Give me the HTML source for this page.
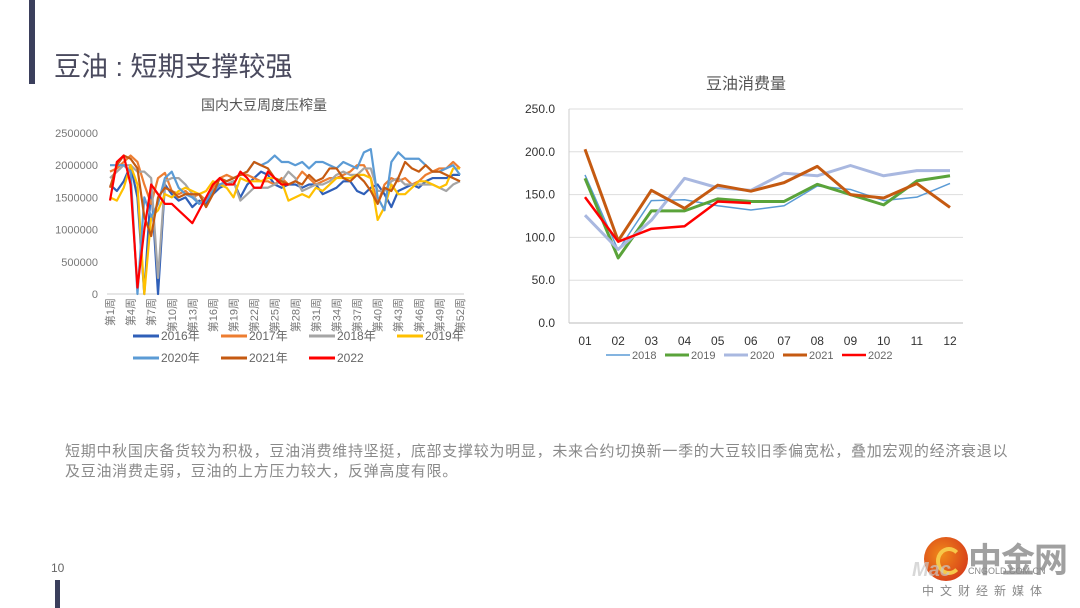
<!DOCTYPE html>
<html><head><meta charset="utf-8">
<style>
body{margin:0;width:1080px;height:608px;background:#fff;position:relative;overflow:hidden;font-family:"Liberation Sans","Noto Sans CJK SC",sans-serif;}
.abs{position:absolute;}
</style></head>
<body>
<div class="abs" style="left:29px;top:0;width:6px;height:84px;background:#3b3f5c"></div>
<div class="abs" style="left:54px;top:45px;font-size:27px;color:#4a4a5e;white-space:nowrap">豆油 : 短期支撑较强</div>

<svg class="abs" style="left:0;top:0" width="1080" height="420">
<g id="left"></g>
<g id="right"></g>
</svg>

<div class="abs" style="left:65px;top:442px;font-size:15px;line-height:20px;color:#8a8a8a;white-space:nowrap;letter-spacing:0.72px">短期中秋国庆备货较为积极，豆油消费维持坚挺，底部支撑较为明显，未来合约切换新一季的大豆较旧季偏宽松，叠加宏观的经济衰退以<br>及豆油消费走弱，豆油的上方压力较大，反弹高度有限。</div>

<div class="abs" style="left:51px;top:561px;font-size:12px;color:#666">10</div>
<div class="abs" style="left:55px;top:580px;width:5px;height:28px;background:#3b3f5c"></div>

<div class="abs" style="left:922px;top:537px;width:150px;height:70px">
<div class="abs" style="left:2px;top:0;width:44px;height:44px;border-radius:50%;background:radial-gradient(circle at 40% 40%,#f08a1a,#d0281a)"></div>
<div class="abs" style="left:14px;top:10px;width:18px;height:20px;border-radius:50%;border:4px solid #f7c84a;border-right-color:transparent"></div>
<div class="abs" style="left:46px;top:-4px;font-size:34px;font-weight:bold;color:#a0a0a0;letter-spacing:-1px">中金网</div>
<div class="abs" style="left:46px;top:29px;font-size:9px;color:#888">CNGOLD.COM.CN</div>
<div class="abs" style="left:-10px;top:22px;font-size:20px;font-style:italic;font-weight:bold;color:#c8c8c8;opacity:.7">Mac</div>
<div class="abs" style="left:0;top:45px;font-size:12px;color:#888;letter-spacing:6px;white-space:nowrap">中文财经新媒体</div>
</div>

<script>
const weeks = Array.from({length:52},(_,i)=>'第'+(i+1)+'周');
const crushTicks = [0,500000,1000000,1500000,2000000,2500000];
const crushSeriesNames = ['2016年','2017年','2018年','2019年','2020年','2021年','2022'];
const crush2016 = [1700,1600,1750,2000,1500,0,1700,0,1700,1550,1450,1500,1350,1450,1400,1550,1650,1700,1750,1500,1700,1800,1900,1850,1700,1650,1700,1700,1650,1700,1700,1550,1600,1650,1750,1750,1600,1550,1650,1700,1550,1350,1600,1650,1700,1650,1750,1800,1800,1800,1850,1850];
const crush2017 = [1900,1950,2050,2150,2050,1700,1400,1800,1880,1600,1550,1600,1500,1550,1450,1650,1800,1850,1800,1850,1850,1800,1750,1750,1700,1800,1700,1750,1900,1800,1700,1750,1800,1800,1850,1900,2000,2000,1800,1400,1700,1800,1750,1800,1700,1750,1850,1900,1950,1950,2050,1950];
const crush2018 = [1800,1900,2000,2000,1900,1900,1800,250,1750,1800,1800,1700,1550,1400,1500,1600,1700,1700,1750,1450,1550,1650,1650,1650,1700,1750,1900,1800,1600,1650,1700,1700,1750,1850,1900,1850,1850,1950,1950,1600,1600,1750,1800,1700,1700,1700,1700,1700,1650,1600,1700,1750];
const crush2019 = [1500,1450,1650,2000,1700,0,1200,1300,1550,1500,1600,1650,1600,1550,1600,1750,1700,1650,1500,1800,1750,1750,1750,1800,1800,1750,1450,1500,1550,1500,1650,1600,1700,1800,1800,1800,1850,1850,1800,1150,1350,1700,1550,1550,1650,1750,1750,1700,1650,1700,1950,1950];
const crush2020 = [2000,2000,2000,1900,0,1500,1200,1400,1800,1900,1650,1550,1500,1400,1450,1600,1700,1750,1800,1850,1900,2050,2000,2050,2150,2050,2050,2000,2050,1950,2050,2050,2000,1950,2050,2000,1950,2200,2250,1500,1300,2050,2200,2100,2100,2100,2000,1900,1900,1950,2000,1850];
const crush2021 = [1650,2000,2150,2100,1950,1200,900,1500,1650,1600,1500,1550,1550,1550,1350,1550,1800,1750,1800,1850,1900,2050,2000,1950,1800,1750,1700,1750,1700,1850,1750,1800,1950,1950,1800,1750,1850,1750,1600,1400,1650,1600,1800,2050,1950,1900,2000,1900,1900,1850,1800,1750];
const crush2022 = [1450,2050,2150,1700,100,1000,1700,1550,1400,1400,1300,1200,1100,1300,1500,1700,1800,1700,1700,1900,1800,1650,1650,1900,1800,1700,1700];
const crushColors = ['#2f5fb8','#ed7d31','#a5a5a5','#ffc000','#5b9bd5','#c55a11','#ff0000'];
const crushData = [crush2016,crush2017,crush2018,crush2019,crush2020,crush2021,crush2022];

const months = ['01','02','03','04','05','06','07','08','09','10','11','12'];
const consTicks = [0,50,100,150,200,250];
const consNames = ['2018','2019','2020','2021','2022'];
const cons2018 = [173,85,143,144,137,132,137,160,156,143,147,163];
const cons2019 = [169,76,131,131,145,142,142,162,150,138,166,172];
const cons2020 = [126,86,120,169,158,155,175,172,184,172,178,178];
const cons2021 = [203,96,155,134,161,154,164,183,150,146,163,135];
const cons2022 = [147,95,110,113,142,140];
const consColors = ['#5b9bd5','#5aa33a','#a9b8e0','#c55a11','#ff0000'];
const consWidths = [1.5,3,3,3,2.5];
const consData = [cons2018,cons2019,cons2020,cons2021,cons2022];

const NS='http://www.w3.org/2000/svg';
function mk(parent,tag,attrs,text){const e=document.createElementNS(NS,tag);for(const k in attrs)e.setAttribute(k,attrs[k]);if(text!=null)e.textContent=text;parent.appendChild(e);return e;}

// Left chart
const L=document.getElementById('left');
const lx=i=>110+i*(350/51), ly=v=>294-v/2500000*161;
let t=mk(L,'text',{x:264,y:110,'font-size':14,'text-anchor':'middle',fill:'#555'},'国内大豆周度压榨量');

crushTicks.forEach(v=>{const e=mk(L,'text',{x:98,y:ly(v)+4,'font-size':11,'text-anchor':'end',fill:'#777'},String(v));
});
let ax=mk(L,'line',{x1:107,x2:464,y1:294,y2:294,stroke:'#ccc'});

weeks.forEach((w,i)=>{if(i%3!==0&&i!==51)return;
const x=lx(i)+4,e=mk(L,'text',{x:x,y:298,'font-size':11,fill:'#777',transform:`rotate(-90 ${x} 298)`,'text-anchor':'end'},w);
});
crushData.forEach((s,k)=>{const p=mk(L,'polyline',{points:s.map((v,i)=>lx(i)+','+ly(v*1000)).join(' '),fill:'none',stroke:crushColors[k],'stroke-width':2.2,'stroke-linejoin':'round'});
});
crushSeriesNames.forEach((n,k)=>{const r=k<4?0:1,c=k<4?k:k-4;const x=133+c*88,y=r?358:336;
const g=mk(L,'g',{});
mk(g,'line',{x1:x,x2:x+26,y1:y,y2:y,stroke:crushColors[k],'stroke-width':3});
mk(g,'text',{x:x+28,y:y+4,'font-size':12,fill:'#666'},n);});

// Right chart
const R=document.getElementById('right');
const rx=i=>585+i*(365/11), ry=v=>323-v/250*214;
t=mk(R,'text',{x:746,y:89,'font-size':16,'text-anchor':'middle',fill:'#555'},'豆油消费量');

consTicks.forEach(v=>{const g=mk(R,'line',{x1:569,x2:963,y1:ry(v),y2:ry(v),stroke:v?'#ddd':'#bbb'});

const e=mk(R,'text',{x:555,y:ry(v)+4,'font-size':12,'text-anchor':'end',fill:'#333'},v.toFixed(1));
});
let yl=mk(R,'line',{x1:569,x2:569,y1:109,y2:323,stroke:'#ccc'});
months.forEach((m,i)=>{const e=mk(R,'text',{x:rx(i),y:345,'font-size':12,'text-anchor':'middle',fill:'#333'},m);
});
consData.forEach((s,k)=>{const p=mk(R,'polyline',{points:s.map((v,i)=>rx(i)+','+ry(v)).join(' '),fill:'none',stroke:consColors[k],'stroke-width':consWidths[k],'stroke-linejoin':'round'});
});
consNames.forEach((n,k)=>{const x=606+k*59,y=355;
const g=mk(R,'g',{});
mk(g,'line',{x1:x,x2:x+24,y1:y,y2:y,stroke:consColors[k],'stroke-width':consWidths[k]});
mk(g,'text',{x:x+26,y:y+4,'font-size':11,fill:'#666'},n);});
</script>
</body></html>
